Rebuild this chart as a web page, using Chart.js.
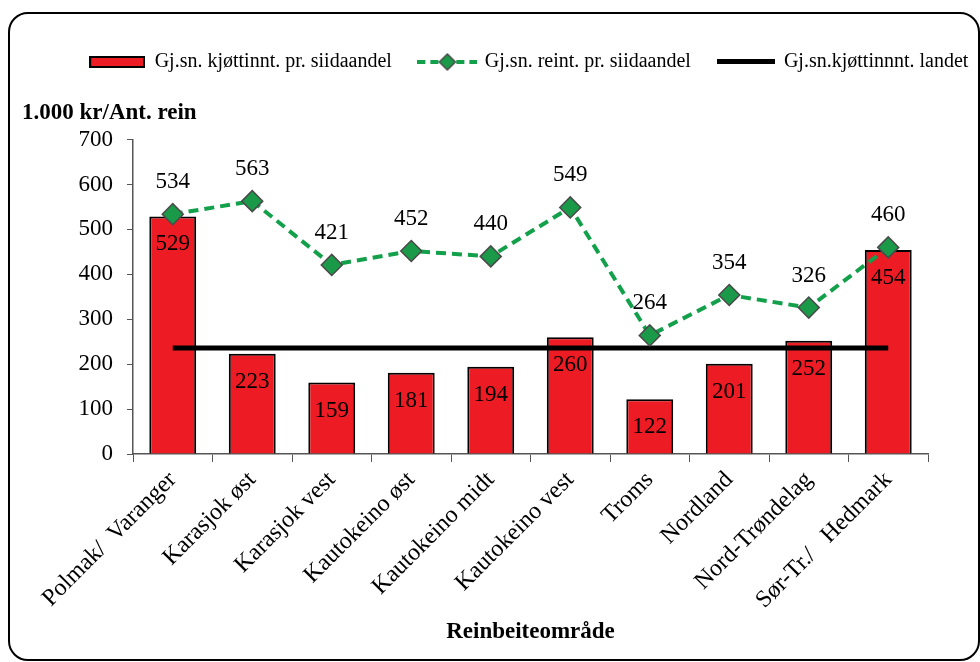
<!DOCTYPE html>
<html>
<head>
<meta charset="utf-8">
<script src="https://cdn.jsdelivr.net/npm/chart.js@4/dist/chart.umd.min.js"></script>
<style>
html, body { margin: 0; padding: 0; background: #fff; }
#wrap { position: relative; width: 980px; height: 662px; overflow: hidden; }
#frame { position: absolute; left: 8px; top: 12px; width: 972px; height: 649px; border: 2px solid #000; border-radius: 20px; box-sizing: border-box; pointer-events: none; }
#chart { position: absolute; left: 0; top: 0; }
</style>
</head>
<body>
<div id="wrap">
  <canvas id="chart" width="980" height="662"></canvas>
  <div id="frame"></div>
</div>
<script>
// Data
const categories = ["Polmak/  Varanger", "Karasjok øst", "Karasjok vest", "Kautokeino øst", "Kautokeino midt",
                    "Kautokeino vest", "Troms", "Nordland", "Nord-Trøndelag", "Sør-Tr./   Hedmark"];
const seriesNames = ["Gj.sn. kjøttinnt. pr. siidaandel", "Gj.sn. reint. pr. siidaandel", "Gj.sn.kjøttinnnt. landet"];
const meatIncome = [529, 223, 159, 181, 194, 260, 122, 201, 252, 454];
const reindeerCount = [534, 563, 421, 452, 440, 549, 264, 354, 326, 460];
const nationalAverage = [236, 236, 236, 236, 236, 236, 236, 236, 236, 236];
const yTicks = [0, 100, 200, 300, 400, 500, 600, 700];

const serif = '"Liberation Serif", "Times New Roman", serif';
Chart.defaults.font.family = serif;
Chart.defaults.color = "#000";

// Legend icons drawn on small canvases
function makeIcon(w, h, draw) {
    let c = document.createElement("canvas");
    c.width = w; c.height = h;
    draw(c.getContext("2d"));
    return c;
}
const legendIcons = [
    makeIcon(56, 12, g => {
        g.fillStyle = "#ed1c24"; g.fillRect(1, 1, 54, 10);
        g.strokeStyle = "#000"; g.lineWidth = 2; g.strokeRect(1, 1, 54, 10);
    }),
    makeIcon(60, 20, g => {
        g.strokeStyle = "#12a04a"; g.lineWidth = 4; g.setLineDash([8, 5]);
        g.beginPath(); g.moveTo(0, 10); g.lineTo(60, 10); g.stroke();
        g.setLineDash([]);
        g.beginPath(); g.moveTo(30, 2); g.lineTo(38, 10); g.lineTo(30, 18); g.lineTo(22, 10); g.closePath();
        g.fillStyle = "#1a9a48"; g.fill();
        g.strokeStyle = "#4a4a4a"; g.lineWidth = 1.5; g.stroke();
    }),
    makeIcon(58, 6, g => {
        g.fillStyle = "#000"; g.fillRect(0, 0, 58, 5);
    })
];

// Value labels, like the data labels of the original
const valueLabels = {
    id: "valueLabels",
    afterDatasetsDraw(chart) {
        let ctx = chart.ctx;
        ctx.save();
        ctx.font = "23px " + serif;
        ctx.fillStyle = "#000";
        ctx.textAlign = "center";
        ctx.textBaseline = "middle";
        chart.getDatasetMeta(0).data.forEach((el, i) => ctx.fillText(meatIncome[i], el.x, el.y + 28));
        chart.getDatasetMeta(1).data.forEach((el, i) => ctx.fillText(reindeerCount[i], el.x, el.y - 32));
        ctx.restore();
    }
};

// Move the legend to the right a bit, as in the original
const legendShift = {
    id: "legendShift",
    afterLayout(chart) {
        chart.legend.left += 39;
        chart.legend.right += 39;
    }
};

new Chart(document.getElementById("chart"), {
    type: "bar",
    data: {
        labels: categories,
        datasets: [
            {
                type: "bar",
                label: seriesNames[0],
                data: meatIncome,
                backgroundColor: "#ed1c24",
                borderColor: "#000",
                borderWidth: 2,
                barPercentage: 0.59,
                categoryPercentage: 1,
                order: 3
            },
            {
                type: "line",
                label: seriesNames[1],
                data: reindeerCount,
                borderColor: "#12a04a",
                borderWidth: 4,
                borderDash: [10, 6],
                pointStyle: "rectRot",
                pointRadius: 10.5,
                pointBackgroundColor: "#1a9a48",
                pointBorderColor: "#4a4a4a",
                pointBorderWidth: 1.5,
                order: 1
            },
            {
                type: "line",
                label: seriesNames[2],
                data: nationalAverage,
                borderColor: "#000",
                borderWidth: 5,
                pointRadius: 0,
                order: 2
            }
        ]
    },
    options: {
        responsive: false,
        animation: false,
        layout: { padding: { left: 22, right: 22, top: 24, bottom: 0 } },
        plugins: {
            tooltip: { enabled: false },
            legend: {
                position: "top",
                labels: {
                    usePointStyle: true,
                    pointStyleWidth: 55,
                    padding: 28,
                    font: { size: 20 },
                    color: "#000",
                    sort: (a, b) => a.datasetIndex - b.datasetIndex,
                    generateLabels(chart) {
                        let items = Chart.defaults.plugins.legend.labels.generateLabels(chart);
                        items.forEach(it => { it.pointStyle = legendIcons[it.datasetIndex]; });
                        return items;
                    }
                }
            },
            title: {
                display: true,
                text: "1.000 kr/Ant. rein",
                align: "start",
                weight: 500,
                color: "#000",
                font: { size: 23, weight: "bold" },
                padding: { top: 17, bottom: 13 }
            }
        },
        scales: {
            x: {
                grid: { drawOnChartArea: false, drawTicks: true, tickLength: 8, color: "#555", offset: true },
                border: { color: "#555", width: 1.5 },
                ticks: { color: "#000", font: { size: 24 }, minRotation: 45, maxRotation: 45, autoSkip: false, padding: 4 },
                title: {
                    display: true,
                    text: "Reinbeiteområde",
                    color: "#000",
                    font: { size: 23, weight: "bold" },
                    padding: { top: 0, bottom: 16 }
                },
                afterFit(scale) { scale.height = 208; }
            },
            y: {
                min: 0,
                max: 700,
                afterBuildTicks(scale) { scale.ticks = yTicks.map(v => ({ value: v })); },
                ticks: { color: "#000", font: { size: 23 }, padding: 14 },
                grid: { drawOnChartArea: false, tickLength: 6, color: "#555" },
                border: { color: "#555", width: 1.5 },
                afterFit(scale) { scale.width = 111; }
            },
            // empty right margin next to the plot
            yRight: {
                position: "right",
                grid: { display: false, drawTicks: false },
                border: { display: false },
                ticks: { display: false },
                afterFit(scale) { scale.width = 30; }
            }
        }
    },
    plugins: [valueLabels, legendShift]
});
</script>
</body>
</html>
